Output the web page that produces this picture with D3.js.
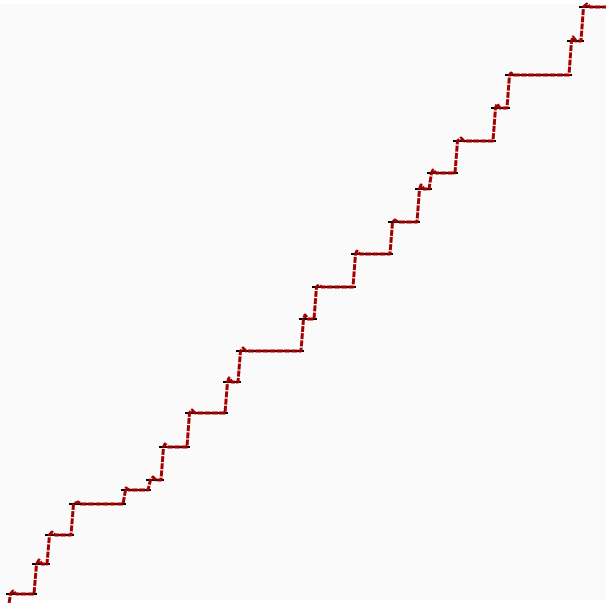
<!DOCTYPE html>
<html>
<head>
<meta charset="utf-8">
<script src="https://cdn.jsdelivr.net/npm/d3@7"></script>
<style>
  body { margin: 0; background: #ffffff; }
  svg { display: block; }
</style>
</head>
<body>
<svg width="606" height="603"></svg>
<script>
var svg = d3.select('svg');
var width = +svg.attr('width');
var height = +svg.attr('height');

// x where each step rises, and the level it rises to
const riseX = [5, 31, 44, 68, 120, 145, 158, 184, 222, 235, 298, 311, 350, 387, 414, 426, 452, 490, 504, 566, 578];
const levels = [6, 36, 65, 96, 110, 120, 153, 187, 218, 249, 281, 313, 346, 378, 411, 427, 459, 492, 525, 559, 593];
// small bumps seen on the plateaus (x position, height above level)
const bumpX = [10, 36, 49, 75, 123, 150, 162, 189, 226, 240, 302, 316, 354, 392, 418, 430, 458, 494, 508, 570, 584];
const bumpH = [3, 4, 3, 2, 2, 3, 3, 3, 4, 3, 4, 2, 3, 2, 4, 3, 3, 4, 2, 4, 3];
const startLevel = -10;
const endX = 606;

const line_color = "#a20000";
const step_color = "#000000";

// panel
svg.append('rect')
	.attr('x', 0).attr('y', 4)
	.attr('width', width).attr('height', height - 7)
	.style('fill', '#fafafa');

const xScale = d3.scaleLinear().domain([0, 600]).range([3, 603]);
const yScale = d3.scaleLinear().domain([0, 600]).range([600, 0]);

// plateaus
const plateaus = levels.map((lv, i) => ({
	x0: riseX[i],
	x1: i < riseX.length - 1 ? riseX[i + 1] : endX,
	y: lv,
	bx: bumpX[i],
	bh: bumpH[i]
}));

// staircase points
let pts = [{x: riseX[0], y: startLevel}];
plateaus.forEach(p => {
	pts.push({x: p.x0 + 2.5, y: p.y});
	pts.push({x: p.bx, y: p.y + p.bh});
	pts.push({x: p.bx + 3, y: p.y});
	pts.push({x: p.x1, y: p.y});
});

const g = svg.append('g');

// black level lines
g.selectAll('line.step').data(plateaus)
	.enter().append('line')
	.attr('class', 'step')
	.attr('x1', d => xScale(d.x0) - 2)
	.attr('x2', d => xScale(d.x1) + 3)
	.attr('y1', d => yScale(d.y))
	.attr('y2', d => yScale(d.y))
	.style('stroke', step_color)
	.style('stroke-width', 2);

// red noisy line
const lineGen = d3.line().x(d => xScale(d.x)).y(d => yScale(d.y));
g.append('path')
	.datum(pts)
	.attr('d', lineGen)
	.style('fill', 'none')
	.style('stroke', line_color)
	.style('stroke-width', 3)
	.style('stroke-linejoin', 'round')
	.style('stroke-dasharray', '6,1.2');
</script>
</body>
</html>
